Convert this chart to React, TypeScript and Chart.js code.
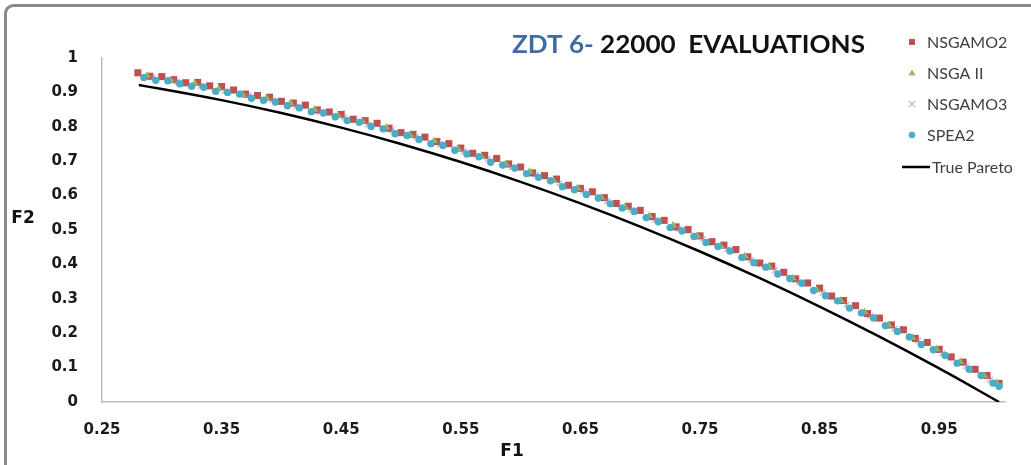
import React, { useEffect, useRef } from 'react';
import { Chart, registerables } from 'chart.js';

Chart.register(...registerables);

// Axis ticks
const X_TICKS = [0.25, 0.35, 0.45, 0.55, 0.65, 0.75, 0.85, 0.95];
const Y_TICKS = [0, 0.1, 0.2, 0.3, 0.4, 0.5, 0.6, 0.7, 0.8, 0.9, 1];

// NSGAMO2 final front
const NSGAMO2_F1 = [
  0.28, 0.29, 0.3, 0.31, 0.32, 0.33, 0.34, 0.35, 0.36, 0.37, 0.38, 0.39, 0.4, 0.41, 0.42, 0.43, 0.44, 0.45,
  0.46, 0.47, 0.48, 0.49, 0.5, 0.51, 0.52, 0.53, 0.54, 0.55, 0.56, 0.57, 0.58, 0.59, 0.6, 0.61, 0.62, 0.63,
  0.64, 0.65, 0.66, 0.67, 0.68, 0.69, 0.7, 0.71, 0.72, 0.73, 0.74, 0.75, 0.76, 0.77, 0.78, 0.79, 0.8, 0.81,
  0.82, 0.83, 0.84, 0.85, 0.86, 0.87, 0.88, 0.89, 0.9, 0.91, 0.92, 0.93, 0.94, 0.95, 0.96, 0.97, 0.98, 0.99, 1.0,
];
const NSGAMO2_F2 = [
  0.957, 0.947, 0.946, 0.937, 0.928, 0.929, 0.919, 0.917, 0.907, 0.895, 0.891, 0.886, 0.874, 0.869, 0.863, 0.849, 0.843, 0.836,
  0.822, 0.818, 0.81, 0.796, 0.783, 0.778, 0.77, 0.757, 0.751, 0.738, 0.723, 0.717, 0.708, 0.692, 0.683, 0.666, 0.658, 0.648,
  0.63, 0.621, 0.611, 0.594, 0.577, 0.569, 0.557, 0.539, 0.528, 0.509, 0.501, 0.483, 0.466, 0.456, 0.443, 0.422, 0.404, 0.395,
  0.377, 0.358, 0.346, 0.331, 0.308, 0.295, 0.28, 0.257, 0.244, 0.224, 0.21, 0.185, 0.173, 0.153, 0.131, 0.116, 0.095, 0.077, 0.054,
];

// NSGA II final front
const NSGAII_F1 = [
  0.2875, 0.3075, 0.3275, 0.3475, 0.3675, 0.3875, 0.4075, 0.4275, 0.4475, 0.4675, 0.4875, 0.5075, 0.5275,
  0.5475, 0.5675, 0.5875, 0.6075, 0.6275, 0.6475, 0.6675, 0.6875, 0.7075, 0.7275, 0.7475, 0.7675, 0.7875,
  0.8075, 0.8275, 0.8475, 0.8675, 0.8875, 0.9075, 0.9275, 0.9475, 0.9675, 0.9875, 0.998,
];
const NSGAII_F2 = [
  0.949, 0.935, 0.926, 0.91, 0.894, 0.883, 0.869, 0.85, 0.831, 0.816, 0.798, 0.776, 0.759,
  0.736, 0.712, 0.692, 0.67, 0.643, 0.622, 0.594, 0.565, 0.541, 0.514, 0.483, 0.451, 0.424,
  0.394, 0.36, 0.325, 0.295, 0.262, 0.224, 0.187, 0.154, 0.117, 0.076, 0.056,
];

// NSGAMO3 final front
const NSGAMO3_F1 = [
  0.2925, 0.3125, 0.3325, 0.3525, 0.3725, 0.3925, 0.4125, 0.4325, 0.4525, 0.4725, 0.4925, 0.5125,
  0.5325, 0.5525, 0.5725, 0.5925, 0.6125, 0.6325, 0.6525, 0.6725, 0.6925, 0.7125, 0.7325, 0.7525,
  0.7725, 0.7925, 0.8125, 0.8325, 0.8525, 0.8725, 0.8925, 0.9125, 0.9325, 0.9525, 0.9725, 0.9925,
];
const NSGAMO3_F2 = [
  0.943, 0.931, 0.919, 0.904, 0.891, 0.877, 0.859, 0.844, 0.827, 0.807, 0.79, 0.771,
  0.749, 0.729, 0.707, 0.683, 0.661, 0.636, 0.612, 0.584, 0.559, 0.53, 0.503, 0.474,
  0.444, 0.413, 0.383, 0.349, 0.318, 0.283, 0.25, 0.213, 0.178, 0.141, 0.104, 0.065,
];

// SPEA2 final front
const SPEA2_F1 = [
  0.285, 0.295, 0.305, 0.315, 0.325, 0.335, 0.345, 0.355, 0.365, 0.375, 0.385, 0.395, 0.405, 0.415, 0.425, 0.435,
  0.445, 0.455, 0.465, 0.475, 0.485, 0.495, 0.505, 0.515, 0.525, 0.535, 0.545, 0.555, 0.565, 0.575, 0.585, 0.595,
  0.605, 0.615, 0.625, 0.635, 0.645, 0.655, 0.665, 0.675, 0.685, 0.695, 0.705, 0.715, 0.725, 0.735, 0.745, 0.755,
  0.765, 0.775, 0.785, 0.795, 0.805, 0.815, 0.825, 0.835, 0.845, 0.855, 0.865, 0.875, 0.885, 0.895, 0.905, 0.915,
  0.925, 0.935, 0.945, 0.955, 0.965, 0.975, 0.985, 0.995, 1.0,
];
const SPEA2_F2 = [
  0.943, 0.935, 0.934, 0.925, 0.918, 0.915, 0.903, 0.9, 0.895, 0.883, 0.877, 0.872, 0.861, 0.855, 0.844, 0.84,
  0.829, 0.818, 0.813, 0.801, 0.794, 0.78, 0.775, 0.763, 0.751, 0.746, 0.732, 0.721, 0.713, 0.697, 0.689, 0.68,
  0.664, 0.653, 0.643, 0.626, 0.617, 0.603, 0.593, 0.576, 0.564, 0.554, 0.536, 0.524, 0.507, 0.497, 0.481, 0.464,
  0.452, 0.439, 0.42, 0.405, 0.392, 0.372, 0.359, 0.345, 0.324, 0.309, 0.294, 0.273, 0.259, 0.244, 0.222, 0.205,
  0.189, 0.167, 0.152, 0.135, 0.113, 0.095, 0.077, 0.055, 0.046,
];

// True Pareto front
const TRUE_F1 = [0.2808, 0.3, 0.35, 0.4, 0.45, 0.5, 0.55, 0.6, 0.65, 0.7, 0.75, 0.8, 0.85, 0.9, 0.95, 1.0];
const TRUE_F2 = [0.9212, 0.91, 0.8775, 0.84, 0.7975, 0.75, 0.6975, 0.64, 0.5775, 0.51, 0.4375, 0.36, 0.2775, 0.19, 0.0975, 0];

const SERIES_LABELS = ['NSGAMO2', 'NSGA II', 'NSGAMO3', 'SPEA2', 'True Pareto'];
const COLORS = {
  red: '#C0504D',
  green: '#9BBB59',
  lavender: 'rgba(150,130,185,0.6)',
  cyan: '#4BACC6',
  line: '#000000',
};

const pts = (xs: number[], ys: number[]) => xs.map((x, i) => ({ x, y: ys[i] }));
const fmt = (v: number) => String(Number(v.toFixed(2)));

function drawMarker(ctx: CanvasRenderingContext2D, kind: string, x: number, y: number) {
  ctx.save();
  if (kind === 'rect') {
    ctx.fillStyle = COLORS.red;
    ctx.fillRect(x - 3, y - 3, 6, 6);
  } else if (kind === 'triangle') {
    ctx.fillStyle = COLORS.green;
    ctx.beginPath();
    ctx.moveTo(x, y - 3.8);
    ctx.lineTo(x + 3.6, y + 2.6);
    ctx.lineTo(x - 3.6, y + 2.6);
    ctx.closePath();
    ctx.fill();
  } else if (kind === 'cross') {
    ctx.strokeStyle = COLORS.lavender;
    ctx.lineWidth = 1.2;
    ctx.beginPath();
    ctx.moveTo(x - 3, y - 3);
    ctx.lineTo(x + 3, y + 3);
    ctx.moveTo(x + 3, y - 3);
    ctx.lineTo(x - 3, y + 3);
    ctx.stroke();
  } else if (kind === 'circle') {
    ctx.fillStyle = COLORS.cyan;
    ctx.beginPath();
    ctx.arc(x, y, 3.3, 0, Math.PI * 2);
    ctx.fill();
  }
  ctx.restore();
}

const decorations = {
  id: 'decorations',
  beforeDraw(chart: Chart) {
    const ctx = chart.ctx;
    ctx.save();
    ctx.fillStyle = '#ffffff';
    ctx.fillRect(0, 0, chart.width, chart.height);
    // outer frame (continues past right and bottom edges)
    ctx.strokeStyle = '#8a8a8a';
    ctx.lineWidth = 3;
    ctx.beginPath();
    ctx.roundRect(5.5, 5.5, chart.width + 40, chart.height + 40, 8);
    ctx.stroke();
    ctx.restore();
  },
  afterDraw(chart: Chart) {
    const ctx = chart.ctx;
    ctx.save();

    // title
    ctx.font = 'bold 25px Lato';
    ctx.textBaseline = 'alphabetic';
    const a = 'ZDT 6-';
    const b = ' 22000  EVALUATIONS';
    const wa = ctx.measureText(a).width;
    const wb = ctx.measureText(b).width;
    const sx = 353 / (wa + wb);
    ctx.save();
    ctx.translate(512, 53);
    ctx.scale(sx, 1);
    ctx.fillStyle = '#3E6BA6';
    ctx.fillText(a, 0, 0);
    ctx.fillStyle = '#111111';
    ctx.fillText(b, wa, 0);
    ctx.restore();

    // axis titles
    ctx.font = 'bold 17px "DejaVu Sans"';
    ctx.fillStyle = '#111111';
    ctx.textAlign = 'center';
    ctx.textBaseline = 'middle';
    ctx.fillText('F2', 23, 219);
    ctx.fillText('F1', 512, 452);

    // legend
    ctx.font = '16px Lato';
    ctx.textAlign = 'left';
    ctx.textBaseline = 'middle';
    ctx.fillStyle = '#404040';
    const kinds = ['rect', 'triangle', 'cross', 'circle'];
    const rows = [42, 73, 104, 135];
    kinds.forEach((k, i) => {
      drawMarker(ctx, k, 912, rows[i]);
      ctx.fillText(SERIES_LABELS[i], 927, rows[i] + 1);
    });
    ctx.strokeStyle = COLORS.line;
    ctx.lineWidth = 2.5;
    ctx.beginPath();
    ctx.moveTo(902, 167);
    ctx.lineTo(930, 167);
    ctx.stroke();
    ctx.fillText(SERIES_LABELS[4], 932, 168);

    ctx.restore();
  },
};

export default function App() {
  const ref = useRef<HTMLCanvasElement | null>(null);

  useEffect(() => {
    if (!ref.current) return;
    const tickFont = { family: '"DejaVu Sans"', size: 15, weight: 'bold' as const };
    const chart = new Chart(ref.current, {
      type: 'scatter',
      data: {
        datasets: [
          {
            label: SERIES_LABELS[4],
            data: pts(TRUE_F1, TRUE_F2),
            showLine: true,
            borderColor: COLORS.line,
            borderWidth: 2.5,
            pointRadius: 0,
            cubicInterpolationMode: 'monotone',
          },
          {
            label: SERIES_LABELS[3],
            data: pts(SPEA2_F1, SPEA2_F2),
            pointStyle: 'circle',
            pointRadius: 3.7,
            pointBorderWidth: 0,
            backgroundColor: COLORS.cyan,
            borderColor: COLORS.cyan,
          },
          {
            label: SERIES_LABELS[2],
            data: pts(NSGAMO3_F1, NSGAMO3_F2),
            pointStyle: 'crossRot',
            pointRadius: 4,
            pointBorderWidth: 1.3,
            backgroundColor: COLORS.lavender,
            borderColor: COLORS.lavender,
          },
          {
            label: SERIES_LABELS[1],
            data: pts(NSGAII_F1, NSGAII_F2),
            pointStyle: 'triangle',
            pointRadius: 4.4,
            pointBorderWidth: 0,
            backgroundColor: COLORS.green,
            borderColor: COLORS.green,
          },
          {
            label: SERIES_LABELS[0],
            data: pts(NSGAMO2_F1, NSGAMO2_F2),
            pointStyle: 'rect',
            pointRadius: 5,
            pointBorderWidth: 0,
            backgroundColor: COLORS.red,
            borderColor: COLORS.red,
          },
        ],
      },
      options: {
        animation: false,
        responsive: false,
        events: [],
        layout: { padding: { top: 58, right: 26, left: 0, bottom: 0 } },
        plugins: {
          legend: { display: false },
          tooltip: { enabled: false },
          title: { display: false },
        },
        scales: {
          x: {
            type: 'linear',
            min: 0.25,
            max: 1.005,
            afterBuildTicks: (axis: any) => {
              axis.ticks = X_TICKS.map((v) => ({ value: v }));
            },
            afterFit: (axis: any) => {
              axis.height = 63;
            },
            ticks: {
              autoSkip: false,
              maxRotation: 0,
              padding: 19,
              color: '#1a1a1a',
              font: tickFont,
              callback: (v: any) => fmt(Number(v)),
            },
            grid: { display: false, drawTicks: false },
            border: { display: true, color: '#bdbdbd', width: 1.5 },
          },
          y: {
            type: 'linear',
            min: 0,
            max: 1,
            afterBuildTicks: (axis: any) => {
              axis.ticks = Y_TICKS.map((v) => ({ value: v }));
            },
            afterFit: (axis: any) => {
              axis.width = 102;
            },
            ticks: {
              autoSkip: false,
              padding: 24,
              color: '#1a1a1a',
              font: tickFont,
              callback: (v: any) => fmt(Number(v)),
            },
            grid: { display: false, drawTicks: false },
            border: { display: true, color: '#bdbdbd', width: 1.5 },
          },
        },
      },
      plugins: [decorations],
    });
    return () => chart.destroy();
  }, []);

  return (
    <div style={{ position: 'fixed', left: 0, top: 0, width: 1031, height: 465, background: '#ffffff' }}>
      <canvas ref={ref} width={1031} height={465} style={{ display: 'block' }} />
    </div>
  );
}
